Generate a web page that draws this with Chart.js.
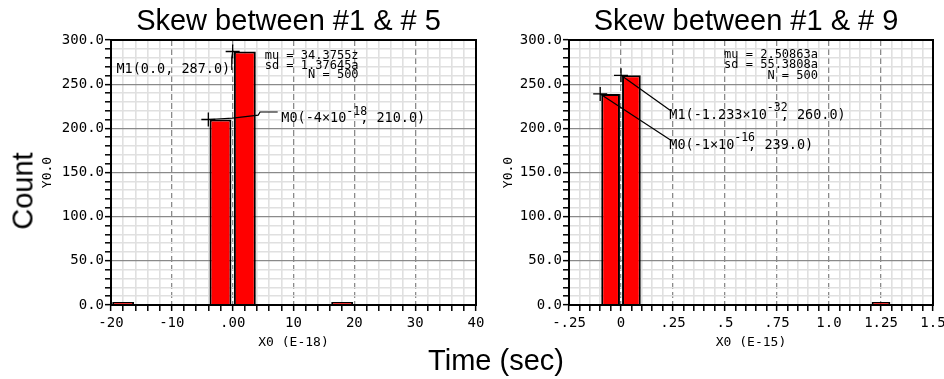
<!DOCTYPE html>
<html><head><meta charset="utf-8">
<script src="https://cdn.jsdelivr.net/npm/chart.js@4.4.1/dist/chart.umd.min.js"></script>
<style>
html,body{margin:0;padding:0;background:#fff;width:944px;height:379px;overflow:hidden;}
#wrap{position:relative;width:944px;height:379px;background:#fff;}
canvas{position:absolute;top:0;}
#cL{left:0;} #cR{left:480px;}
.big{position:absolute;font-family:"Liberation Sans",Arial,sans-serif;font-size:29px;color:#000;white-space:nowrap;line-height:29px;height:29px;}
#count{left:23px;top:191px;transform:translate(-50%,-50%) rotate(-90deg);}
#time{left:496px;top:360px;transform:translate(-50%,-50%);}
</style></head><body>
<div id="wrap">
<canvas id="cL" width="500" height="379"></canvas>
<canvas id="cR" width="464" height="379"></canvas>
<div class="big" id="count">Count</div>
<div class="big" id="time">Time (sec)</div>
</div>
<script>
// ---------------- data ----------------
const titleL = 'Skew between #1 & # 5';
const titleR = 'Skew between #1 & # 9';
const xTitleL = 'X0 (E-18)';
const xTitleR = 'X0 (E-15)';
const yTitle = 'Y0.0';
const binCentersL = [-18, -2, 2, 18];
const countsL = [1, 210, 287, 2];
const binCentersR = [-0.05, 0.05, 1.25];
const countsR = [239, 260, 1];
const xTickValuesL = [-20, -10, 0, 10, 20, 30, 40];
const xTickLabelsL = ['-20', '-10', '.00', '10', '20', '30', '40'];
const xTickValuesR = [-0.25, 0, 0.25, 0.5, 0.75, 1.0, 1.25, 1.5];
const xTickLabelsR = ['-.25', '0', '.25', '.5', '.75', '1.0', '1.25', '1.5'];
const yTickValues = [0, 50, 100, 150, 200, 250, 300];
const yTickLabels = ['0.0', '50.0', '100.0', '150.0', '200.0', '250.0', '300.0'];
const statsL = ['mu = 34.3755z', 'sd = 1.37645a', 'N = 500'];
const statsR = ['mu = 2.50863a', 'sd = 55.3808a', 'N = 500'];
// markers: data point + label text parts [base, superscript, tail]
const markerXL = [-4, 0];
const markerYL = [210, 287];
const markerTextL = [['M0(-4\u00d710', '-18', ', 210.0)'], ['M1(0.0, 287.0)', '', '']];
const markerXR = [-0.1, 0];
const markerYR = [239, 260];
const markerTextR = [['M0(-1\u00d710', '-16', ', 239.0)'], ['M1(-1.233\u00d710', '-32', ', 260.0)']];

// ---------------- layout of annotations (data coordinates) ----------------
const layoutL = {
  title: titleL, stats: statsL, statsAt: [20.7, 282], statsGap: 9.7,
  labels: [
    {at: [8.0, 211], align: 'left', path: [[0, 211.5], [4.2, 215], [4.5, 218.5], [7.4, 218.5]]},
    {at: [-0.4, 267], align: 'right', path: [[-0.15, 280], [-0.15, 266]]}
  ],
  mx: markerXL, my: markerYL, mt: markerTextL
};
const layoutR = {
  title: titleR, stats: statsR, statsAt: [0.947, 283], statsGap: 10.3,
  labels: [
    {at: [0.232, 181], align: 'left', path: [[0.236, 187]]},
    {at: [0.232, 215], align: 'left', path: [[0.236, 220.5]]}
  ],
  mx: markerXR, my: markerYR, mt: markerTextR
};

const MONO = '"DejaVu Sans Mono", "Liberation Mono", monospace';

function findIdx(arr, v) { return arr.findIndex(t => Math.abs(t - v) < 1e-9); }

function makeAnnot(L) {
  return {
    id: 'annot',
    afterDatasetsDraw(chart) {
      const {ctx, chartArea: a, scales: {x, y}} = chart;
      ctx.save();
      ctx.strokeStyle = '#000'; ctx.lineWidth = 2;
      ctx.strokeRect(a.left, a.top, a.right - a.left, a.bottom - a.top);
      // stats
      ctx.fillStyle = '#000';
      ctx.font = '12px ' + MONO;
      ctx.textAlign = 'right'; ctx.textBaseline = 'middle';
      const sx = x.getPixelForValue(L.statsAt[0]);
      const sy = y.getPixelForValue(L.statsAt[1]);
      L.stats.forEach((s, i) => ctx.fillText(s, sx, sy + i * L.statsGap));
      // markers
      L.mx.forEach((mxv, i) => {
        const px = x.getPixelForValue(mxv), py = y.getPixelForValue(L.my[i]);
        const lab = L.labels[i];
        ctx.strokeStyle = '#000'; ctx.lineWidth = 1.3;
        ctx.beginPath();
        ctx.moveTo(px - 7, py); ctx.lineTo(px + 7, py);
        ctx.moveTo(px, py - 7); ctx.lineTo(px, py + 7);
        ctx.stroke();
        ctx.lineWidth = 1.2;
        ctx.beginPath(); ctx.moveTo(px, py);
        lab.path.forEach(p => ctx.lineTo(x.getPixelForValue(p[0]), y.getPixelForValue(p[1])));
        ctx.stroke();
        // label text
        const [base, sup, tail] = L.mt[i];
        const fBase = '13.5px ' + MONO, fSup = '11.5px ' + MONO;
        ctx.font = fBase; const wB = ctx.measureText(base).width; const wT = ctx.measureText(tail).width;
        ctx.font = fSup; const wS = ctx.measureText(sup).width; const cS = sup ? ctx.measureText('0').width : 0;
        const total = wB + wS - cS + wT;
        let lx = x.getPixelForValue(lab.at[0]);
        const ly = y.getPixelForValue(lab.at[1]);
        if (lab.align === 'right') lx -= total;
        ctx.textAlign = 'left'; ctx.textBaseline = 'middle';
        ctx.font = fBase; ctx.fillText(base, lx, ly);
        if (sup) {
          ctx.font = fSup; ctx.fillText(sup, lx + wB, ly - 7);
          ctx.font = fBase; ctx.fillText(tail, lx + wB + wS - cS, ly);
        }
      });
      ctx.restore();
    },
    afterDraw(chart) {
      const {ctx, chartArea: a} = chart;
      ctx.save();
      ctx.fillStyle = '#000';
      ctx.font = '29px "Liberation Sans", Arial, sans-serif';
      ctx.textAlign = 'center'; ctx.textBaseline = 'alphabetic';
      ctx.fillText(L.title, (a.left + a.right) / 2 - 5, 30);
      ctx.restore();
    }
  };
}

function makeChart(canvasId, centers, counts, xMin, xMax, xStep, xTickVals, xTickLabs, xTitle, yAxisWidth, padRight, yTitlePad, L) {
  const xMajor = v => findIdx(xTickVals, v) >= 0;
  const yMajor = v => findIdx(yTickValues, v) >= 0;
  return new Chart(document.getElementById(canvasId), {
    type: 'bar',
    data: {
      datasets: [{
        data: centers.map((c, i) => ({x: c, y: counts[i]})),
        backgroundColor: '#ff0000',
        borderColor: '#000000',
        borderWidth: 2,
        borderSkipped: 'start',
        minBarLength: 3,
        barPercentage: 0.9,
        categoryPercentage: 2.0
      }]
    },
    options: {
      responsive: false,
      animation: false,
      events: [],
      layout: {padding: {top: 40, right: padRight, bottom: 0, left: 0}},
      plugins: {legend: {display: false}, tooltip: {enabled: false}, title: {display: false}},
      scales: {
        x: {
          type: 'linear', min: xMin, max: xMax, offset: false,
          ticks: {
            stepSize: xStep, maxTicksLimit: 200, autoSkip: false, maxRotation: 0, minRotation: 0,
            padding: 4, color: '#000', font: {family: MONO, size: 14},
            callback: v => { const i = findIdx(xTickVals, v); return i >= 0 ? xTickLabs[i] : ''; }
          },
          grid: {
            offset: false,
            color: c => (c.tick && xMajor(c.tick.value)) ? '#8a8a8a' : '#e0e0e0',
            lineWidth: c => (c.tick && xMajor(c.tick.value)) ? 1.3 : 1.6,
            tickColor: '#000', tickLength: 6, tickWidth: 1.5, drawTicks: true
          },
          border: {display: true, color: '#000', width: 2,
            dash: c => (c.tick && xMajor(c.tick.value)) ? [6, 3] : []},
          title: {display: true, text: xTitle, color: '#000', font: {family: MONO, size: 13},
            padding: {top: 0, bottom: 29}},
          afterFit: s => { s.height = 74; s.paddingLeft = 0; s.paddingRight = 0; }
        },
        y: {
          type: 'linear', min: 0, max: 300,
          ticks: {
            stepSize: 10, maxTicksLimit: 200, autoSkip: false,
            padding: 1, color: '#000', font: {family: MONO, size: 14},
            callback: v => { const i = findIdx(yTickValues, v); return i >= 0 ? yTickLabels[i] : ''; }
          },
          grid: {
            color: c => (c.tick && yMajor(c.tick.value)) ? '#8a8a8a' : '#e0e0e0',
            lineWidth: c => (c.tick && yMajor(c.tick.value)) ? 1.3 : 1.6,
            tickColor: '#000', tickLength: 6, tickWidth: 1.5, drawTicks: true
          },
          border: {display: true, color: '#000', width: 2},
          title: {display: true, text: yTitle, color: '#000', font: {family: MONO, size: 13},
            padding: {top: yTitlePad, bottom: 0}},
          afterFit: s => { s.width = yAxisWidth; s.paddingTop = 0; s.paddingBottom = 0; }
        }
      }
    },
    plugins: [makeAnnot(L)]
  });
}

makeChart('cL', binCentersL, countsL, -20, 40, 2, xTickValuesL, xTickLabelsL, xTitleL, 111, 24, 40, layoutL);
makeChart('cR', binCentersR, countsR, -0.25, 1.5, 0.05, xTickValuesR, xTickLabelsR, xTitleR, 89, 11, 21, layoutR);
</script>
</body></html>
